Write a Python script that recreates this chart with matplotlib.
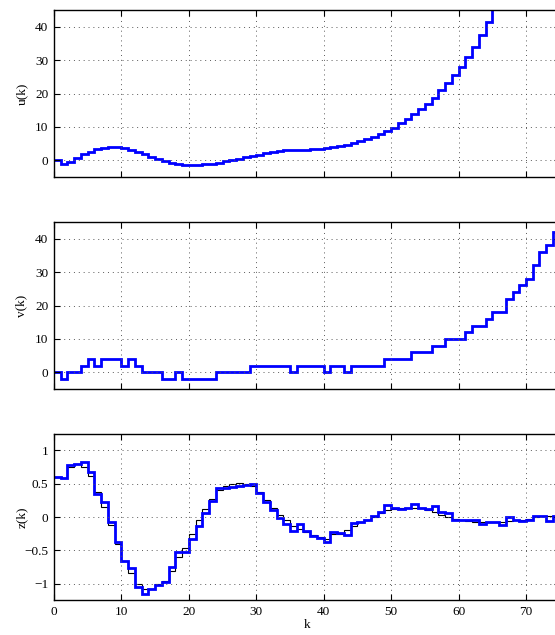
import numpy as np
import matplotlib
matplotlib.use("Agg")
import matplotlib.pyplot as plt

plt.rcParams['font.family'] = ['Liberation Serif', 'DejaVu Serif']
plt.rcParams['font.size'] = 9.5

# u(k), k = 0..65 (last step leaves the axes)
u_vals = [0, -1.2, -0.6, 0.8, 1.8, 2.6, 3.3, 3.8, 4.0, 3.9,
          3.6, 3.1, 2.5, 1.8, 1.1, 0.4, -0.2, -0.7, -1.2, -1.4,
          -1.5, -1.4, -1.2, -1.0, -0.7, -0.3, 0.1, 0.5, 0.9, 1.3,
          1.7, 2.1, 2.5, 2.8, 3.0, 3.1, 3.1, 3.2, 3.3, 3.4,
          3.7, 4.0, 4.3, 4.7, 5.2, 5.7, 6.3, 7.0, 7.8, 8.8,
          9.8, 11.1, 12.5, 13.9, 15.4, 17.0, 18.8, 21.0, 23.2, 25.4,
          28.0, 30.8, 33.8, 37.6, 41.4, 48.0]

# v(k), k = 0..74
v_vals = [0, -2, 0, 0, 2, 4, 2, 4, 4, 4,
          2, 4, 2, 0, 0, 0, -2, -2, 0, -2,
          -2, -2, -2, -2, 0, 0, 0, 0, 0, 2,
          2, 2, 2, 2, 2, 0, 2, 2, 2, 2,
          0, 2, 2, 0, 2, 2, 2, 2, 2, 4,
          4, 4, 4, 6, 6, 6, 8, 8, 10, 10,
          10, 12, 14, 14, 16, 18, 18, 22, 24, 26,
          28, 32, 36, 38, 42]

# z(k), blue (thick) and black (thin), k = 0..74
z_blue = [0.6, 0.59, 0.78, 0.79, 0.82, 0.67, 0.34, 0.22, -0.075, -0.37,
          -0.66, -0.76, -1.05, -1.15, -1.08, -1.02, -0.975, -0.75, -0.53, -0.53,
          -0.33, -0.14, 0.055, 0.24, 0.43, 0.44, 0.45, 0.46, 0.48, 0.50,
          0.36, 0.225, 0.1, -0.01, -0.1, -0.21, -0.11, -0.21, -0.29, -0.32,
          -0.37, -0.22, -0.235, -0.27, -0.09, -0.07, -0.04, 0.02, 0.08, 0.18,
          0.14, 0.12, 0.14, 0.19, 0.14, 0.115, 0.16, 0.07, 0.055, -0.05,
          -0.05, -0.04, -0.05, -0.11, -0.08, -0.08, -0.12, 0.0, -0.05, -0.065,
          -0.04, 0.02, 0.01, -0.06, 0.015]
z_black = [0.6, 0.59, 0.74, 0.79, 0.75, 0.61, 0.37, 0.15, -0.12, -0.4,
           -0.66, -0.84, -1.0, -1.07, -1.07, -1.0, -0.95, -0.8, -0.6, -0.46,
           -0.25, -0.05, 0.12, 0.27, 0.4, 0.46, 0.5, 0.51, 0.5, 0.46,
           0.37, 0.25, 0.14, 0.03, -0.04, -0.13, -0.18, -0.23, -0.27, -0.3,
           -0.33, -0.26, -0.26, -0.2, -0.13, -0.08, -0.04, 0.0, 0.06, 0.11,
           0.12, 0.13, 0.14, 0.14, 0.13, 0.1, 0.07, 0.03, 0.0, -0.03,
           -0.05, -0.06, -0.07, -0.08, -0.08, -0.08, -0.07, -0.06, -0.05, -0.04,
           -0.03, 0.0, 0.01, 0.01, 0.02]

xticks = [0, 10, 20, 30, 40, 50, 60, 70]

fig = plt.figure(figsize=(5.55, 6.35), dpi=100)
W = 75 * 6.743 / 555
ax1 = fig.add_axes([54 / 555, 1 - 177 / 635, W, 167 / 635])
ax2 = fig.add_axes([54 / 555, 1 - 389 / 635, W, 167 / 635])
ax3 = fig.add_axes([54 / 555, 1 - 600 / 635, W, 166 / 635])

blue = '#0000ff'
ax1.stairs(u_vals, np.arange(len(u_vals) + 1), baseline=None, color=blue, linewidth=2.0)
ax2.stairs(v_vals, np.arange(len(v_vals) + 1), baseline=None, color=blue, linewidth=2.0)
ax3.stairs(z_black, np.arange(len(z_black) + 1), baseline=None, color='black', linewidth=0.8)
ax3.stairs(z_blue, np.arange(len(z_blue) + 1), baseline=None, color=blue, linewidth=2.0)

for ax in (ax1, ax2, ax3):
    ax.set_xlim(0, 75)
    ax.set_xticks(xticks)
    ax.grid(True, linestyle=(0, (1, 4)), color='0.35', linewidth=0.7)
    ax.tick_params(direction='in', top=True, right=True, length=4, width=0.8, pad=4)
    for s in ax.spines.values():
        s.set_linewidth(1.0)

for ax, lab in ((ax1, 'u(k)'), (ax2, 'v(k)')):
    ax.set_ylim(-5, 45)
    ax.set_yticks([0, 10, 20, 30, 40])
    ax.tick_params(labelbottom=False)
    ax.set_ylabel(lab)

ax3.set_ylim(-1.24, 1.24)
ax3.set_yticks([-1, -0.5, 0, 0.5, 1])
ax3.set_yticklabels(['\u22121', '\u22120.5', '0', '0.5', '1'])
ax3.set_ylabel('z(k)')
ax3.set_xlabel('k', labelpad=1)

for ax in (ax1, ax2, ax3):
    ax.yaxis.set_label_coords(-0.052, 0.5)

fig.savefig('out.png', dpi=100)
